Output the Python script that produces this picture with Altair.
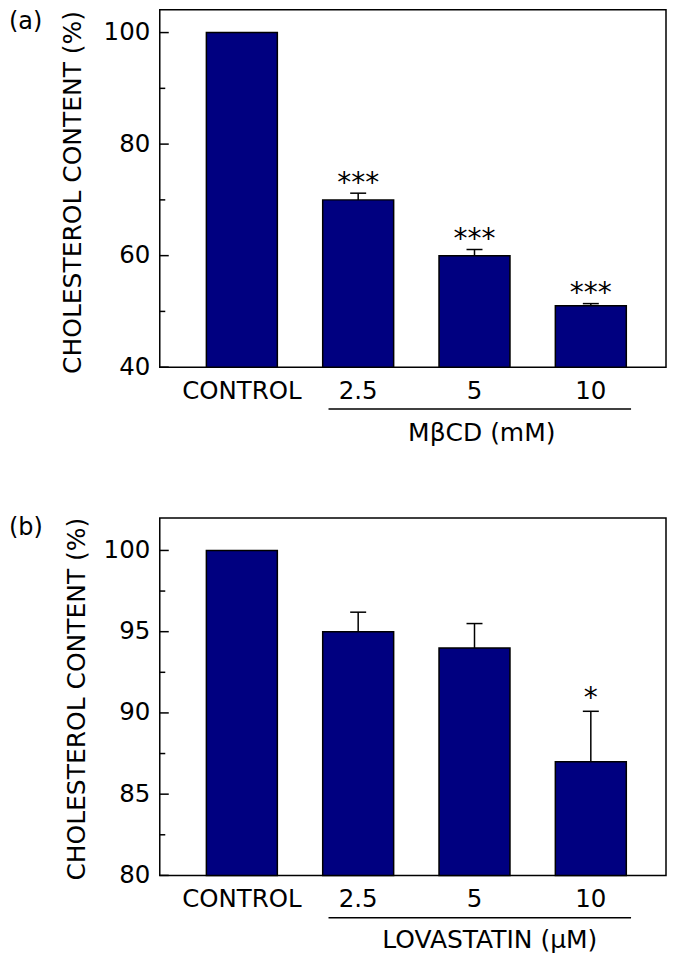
import altair as alt
import pandas as pd

categories = ["CONTROL", "2.5", "5", "10"]

mbcd_values = [100, 70, 60, 51]
mbcd_errors = [None, 1.2, 1.1, 0.4]
mbcd_stars = ["", "***", "***", "***"]
mbcd_major_ticks = [40, 60, 80, 100]
mbcd_minor_ticks = [50, 70, 90]
mbcd_domain = [40, 104.1]

lova_values = [100, 95, 94, 87]
lova_errors = [None, 1.2, 1.5, 3.1]
lova_stars = ["", "", "", "*"]
lova_major_ticks = [80, 85, 90, 95, 100]
lova_minor_ticks = [82.5, 87.5, 92.5, 97.5]
lova_domain = [80, 102]

FONT = "DejaVu Sans"
W, H = 507, 358
NAVY = "#000080"


def panel(values, errors, stars, domain, major, minor, tag, tag_y, group_title,
          ytitle_x, ytitle_y, gtitle_x, gtitle_y, line_y, star_dy):
    df = pd.DataFrame({"cat": categories, "value": values, "err": errors, "star": stars})
    df["top"] = df["value"] + df["err"]
    err_df = df.dropna(subset=["err"])
    star_df = df[df["star"] != ""]

    def xenc():
        return alt.X(
            "cat:N", sort=categories,
            scale=alt.Scale(paddingInner=0.39, paddingOuter=0.371, align=0.54),
            axis=alt.Axis(
                title=group_title, labelAngle=0, ticks=False, domain=False,
                labelPadding=12, labelFontSize=24.5, labelFont=FONT, labelColor="black",
                titleFont=FONT, titleFontSize=25, titleFontWeight="normal", titleColor="black",
                titleX=gtitle_x, titleY=gtitle_y, titleAlign="center",
                titleBaseline="alphabetic",
            ),
        )

    def yenc(field):
        return alt.Y(
            field,
            scale=alt.Scale(domain=domain, nice=False, zero=False),
            axis=alt.Axis(
                title="CHOLESTEROL CONTENT (%)", values=major, ticks=False, domain=False,
                grid=False, labelPadding=10, labelFontSize=24.5, labelFont=FONT,
                labelColor="black", titleFont=FONT, titleFontSize=25,
                titleFontWeight="normal", titleColor="black",
                titleX=ytitle_x, titleY=ytitle_y, titleAngle=270,
                titleAlign="center", titleBaseline="middle",
            ),
        )

    bars = alt.Chart(df).mark_bar(color=NAVY, stroke="black", strokeWidth=1.5).encode(
        x=xenc(), y=yenc("value:Q"), y2=alt.datum(domain[0])
    )
    err_rule = alt.Chart(err_df).mark_rule(color="black", strokeWidth=1.5).encode(
        x=xenc(), y=yenc("value:Q"), y2="top:Q"
    )
    err_cap = alt.Chart(err_df).mark_tick(color="black", thickness=1.5, size=16, opacity=1).encode(
        x=xenc(), y=yenc("top:Q")
    )
    star_txt = alt.Chart(star_df).mark_text(
        font=FONT, fontSize=28, baseline="alphabetic", align="center", dy=star_dy, color="black"
    ).encode(x=xenc(), y=yenc("top:Q"), text="star:N")

    maj_df = pd.DataFrame({"value": major})
    min_df = pd.DataFrame({"value": minor})
    maj_rule = alt.Chart(maj_df).mark_rule(color="black", strokeWidth=1.5).encode(
        y=yenc("value:Q"), x=alt.value(0), x2=alt.value(9)
    )
    min_rule = alt.Chart(min_df).mark_rule(color="black", strokeWidth=1.5).encode(
        y=yenc("value:Q"), x=alt.value(0), x2=alt.value(5.5)
    )

    tag_txt = alt.Chart(pd.DataFrame({"t": [tag]})).mark_text(
        font=FONT, fontSize=24, align="left", baseline="alphabetic", color="black"
    ).encode(x=alt.value(-151), y=alt.value(tag_y), text="t:N")

    group_line = alt.Chart(pd.DataFrame({"g": [group_title]})).mark_rule(
        color="black", strokeWidth=1.5
    ).encode(x=alt.value(169), x2=alt.value(472), y=alt.value(line_y))

    return alt.layer(
        bars, err_rule, err_cap, star_txt, maj_rule, min_rule, tag_txt, group_line
    ).properties(width=W, height=H)


top = panel(mbcd_values, mbcd_errors, mbcd_stars, mbcd_domain, mbcd_major_ticks,
            mbcd_minor_ticks, "(a)", 19, "MβCD (mM)", -87, H / 2 + 3.5,
            322, 73.3, 400, -1.5)
bottom = panel(lova_values, lova_errors, lova_stars, lova_domain, lova_major_ticks,
               lova_minor_ticks, "(b)", 17, "LOVASTATIN (μM)", -83, H / 2 + 2,
               330, 72, 400.5, -4)

chart = alt.vconcat(top, bottom, spacing=68).resolve_scale(
    x="independent", y="independent"
).properties(
    padding={"left": 0, "top": 0, "right": 0, "bottom": 0}
).configure(background="white").configure_view(
    stroke="black", strokeWidth=1.5
)

chart.save("out.html", embed_options={"renderer": "svg", "actions": False})
